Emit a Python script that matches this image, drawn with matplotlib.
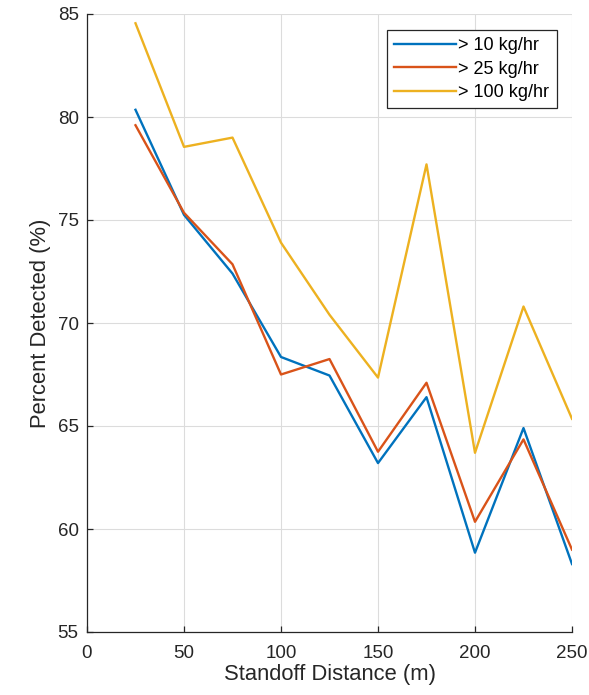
"""
Percent of leaks detected versus standoff distance, for three leak-rate thresholds.
"""

from matplotlib import pyplot

# Data.
distance = [25, 50, 75, 100, 125, 150, 175, 200, 225, 250]
det_10 = [80.35, 75.25, 72.4, 68.35, 67.45, 63.2, 66.4, 58.85, 64.9, 58.3]
det_25 = [79.6, 75.35, 72.85, 67.5, 68.25, 63.75, 67.1, 60.35, 64.35, 59.0]
det_100 = [84.55, 78.55, 79.0, 73.9, 70.4, 67.35, 77.7, 63.7, 70.8, 65.35]
labels = ['> 10 kg/hr', '> 25 kg/hr', '> 100 kg/hr']

pyplot.rc('font', family=['Liberation Sans', 'DejaVu Sans'], size=13)
fig = pyplot.figure(figsize=(5.89, 6.95), dpi=100)
ax = fig.add_axes([87 / 589, 63 / 695, 485 / 589, 618 / 695])

colors = ['#0072BD', '#D95319', '#EDB120']
for y, lab, c in zip([det_10, det_25, det_100], labels, colors):
    ax.plot(distance, y, color=c, linewidth=1.7, label=lab)

ax.set_xlim(0, 250)
ax.set_ylim(55, 85)
ax.set_xticks(range(0, 251, 50))
ax.set_yticks(range(55, 86, 5))
ax.grid(True, color='#dcdcdc', linewidth=0.8)
ax.set_axisbelow(True)
for side in ('top', 'right'):
    ax.spines[side].set_visible(False)
for side in ('left', 'bottom'):
    ax.spines[side].set_color('#262626')
    ax.spines[side].set_linewidth(0.9)
ax.tick_params(direction='in', length=4, width=0.9, colors='#262626',
               labelsize=13.5)
ax.tick_params(axis='x', pad=9)
ax.tick_params(axis='y', pad=6)
ax.set_xlabel('Standoff Distance (m)', fontsize=15.8, color='#262626', labelpad=2)
ax.set_ylabel('Percent Detected (%)', fontsize=15.8, color='#262626', labelpad=5)

leg = ax.legend(loc='upper left', bbox_to_anchor=(300 / 485, 1 - 16 / 618),
                fontsize=13, handlelength=3.4, handletextpad=0.15,
                borderpad=0.4, borderaxespad=0, labelspacing=0.35,
                fancybox=False, framealpha=1, edgecolor='#262626')
leg.get_frame().set_linewidth(0.9)

fig.savefig('out.png', dpi=100)
